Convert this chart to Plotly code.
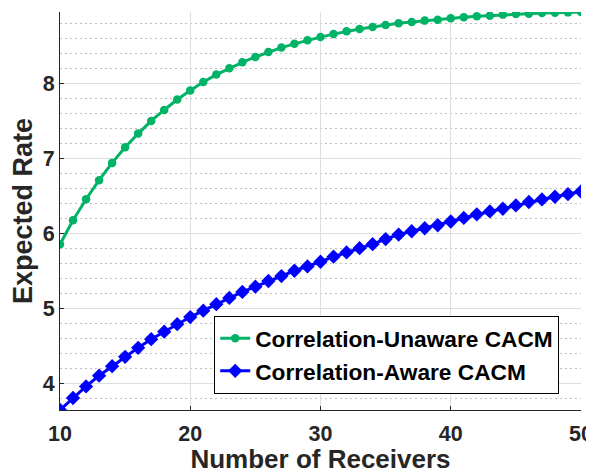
import plotly.graph_objects as go

receivers = list(range(10, 51))
unaware_rate = [5.857, 6.177, 6.457, 6.711, 6.942, 7.151, 7.333, 7.502, 7.648, 7.787,
                7.907, 8.022, 8.12, 8.204, 8.284, 8.355, 8.422, 8.48, 8.53, 8.577,
                8.62, 8.66, 8.697, 8.728, 8.755, 8.782, 8.804, 8.822, 8.84, 8.853,
                8.871, 8.884, 8.897, 8.906, 8.92, 8.928, 8.933, 8.941, 8.946, 8.95, 8.955]
aware_rate = [3.645, 3.805, 3.96, 4.103, 4.23, 4.355, 4.475, 4.59, 4.69, 4.79,
              4.885, 4.97, 5.057, 5.14, 5.22, 5.29, 5.366, 5.432, 5.503, 5.561,
              5.623, 5.69, 5.747, 5.804, 5.857, 5.926, 5.985, 6.03, 6.07, 6.11,
              6.16, 6.207, 6.255, 6.294, 6.33, 6.374, 6.42, 6.454, 6.49, 6.525, 6.56]
x_ticks = [10, 20, 30, 40, 50]
y_ticks = [4, 5, 6, 7, 8]

FONT = "Liberation Sans, Arial, sans-serif"
GREEN = "rgb(0,179,102)"
BLUE = "rgb(0,0,255)"
TXT = "rgb(38,38,38)"

fig = go.Figure()
fig.add_trace(go.Scatter(
    x=receivers, y=unaware_rate, mode="lines+markers",
    name="<b>Correlation-Unaware CACM</b>",
    line=dict(color=GREEN, width=3),
    marker=dict(symbol="circle", size=8.5, color=GREEN),
))
fig.add_trace(go.Scatter(
    x=receivers, y=aware_rate, mode="lines+markers",
    name="<b>Correlation-Aware CACM</b>",
    line=dict(color=BLUE, width=3),
    marker=dict(symbol="diamond", size=11, color=BLUE),
))

# page body has an 8px margin, so the figure is offset by (8, 8)
fig.update_layout(
    width=586, height=466, autosize=False,
    margin=dict(l=52, r=13, t=4, b=64),
    plot_bgcolor="white", paper_bgcolor="white",
    font=dict(family=FONT, color=TXT),
    showlegend=True,
    legend=dict(
        x=0.296, y=0.04, xanchor="left", yanchor="bottom",
        bgcolor="white", bordercolor="black", borderwidth=1,
        font=dict(family=FONT, size=22.7, color="black"),
        tracegroupgap=0, itemwidth=30,
    ),
    xaxis=dict(
        range=[10, 50], tickvals=x_ticks, ticktext=[f"<b>{v}</b>" for v in x_ticks],
        tickfont=dict(size=21.5, color=TXT), ticklabelstandoff=4,
        title=dict(text="<b>Number of Receivers</b>", font=dict(size=26, color=TXT), standoff=17),
        showline=True, linecolor=TXT, linewidth=1,
        ticks="inside", ticklen=4, tickcolor=TXT,
        showgrid=True, gridcolor="rgb(222,222,222)", gridwidth=1,
        zeroline=False, mirror=False, automargin=False,
    ),
    yaxis=dict(
        range=[3.645, 8.955], tickvals=y_ticks, ticktext=[f"<b>{v}</b>" for v in y_ticks],
        tickfont=dict(size=21.5, color=TXT),
        title=dict(text="<b>Expected Rate</b>", font=dict(size=27, color=TXT), standoff=8),
        showline=True, linecolor=TXT, linewidth=1,
        ticks="inside", ticklen=4, tickcolor=TXT,
        showgrid=True, gridcolor="rgb(222,222,222)", gridwidth=1,
        zeroline=False, mirror=False, automargin=False,
        minor=dict(dtick=0.2, tick0=0, showgrid=True, gridcolor="rgb(190,190,190)",
                   griddash="1.5px,3.5px", gridwidth=1, ticks=""),
    ),
)

fig.write_html("out.html")
